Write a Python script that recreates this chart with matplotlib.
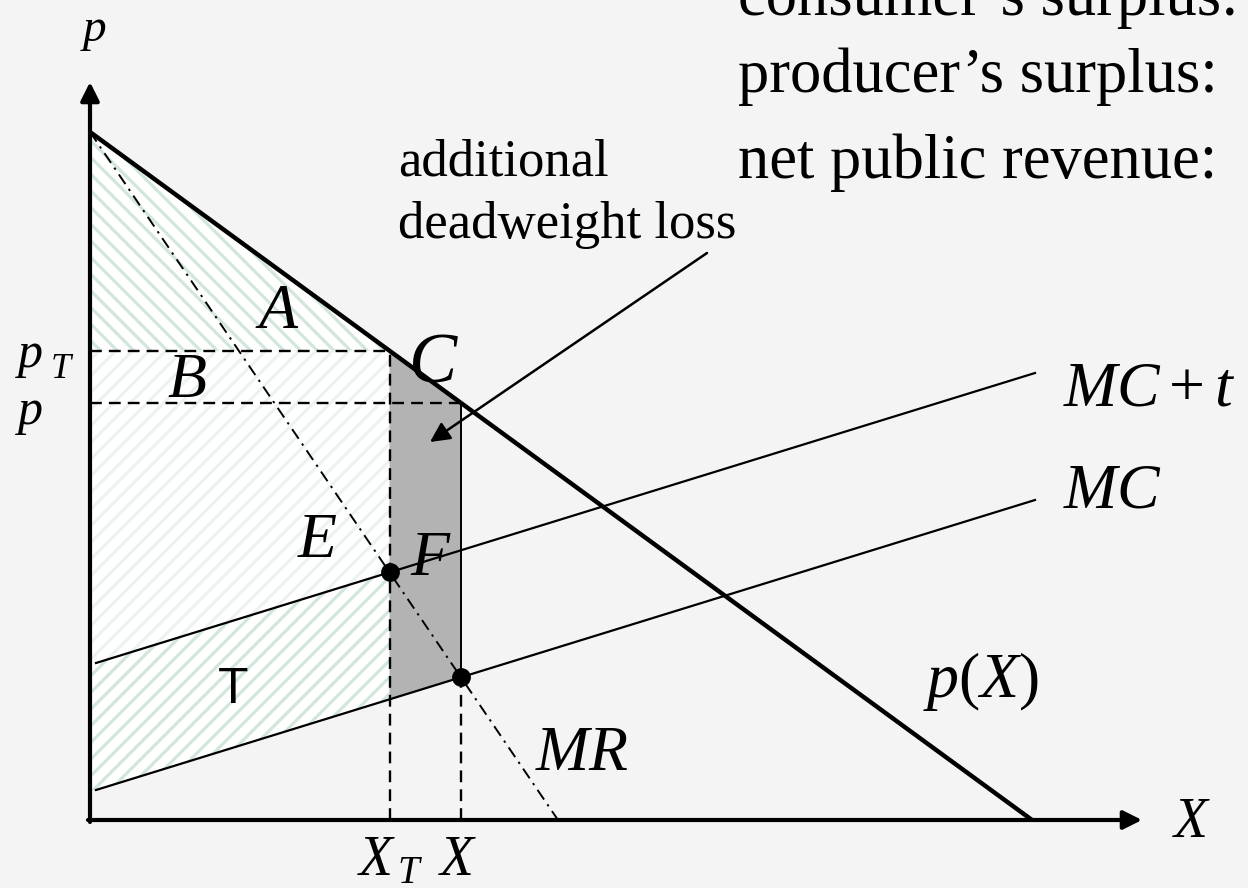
import numpy as np
import matplotlib.pyplot as plt
from matplotlib.patches import Polygon

plt.rcParams['mathtext.fontset'] = 'custom'
plt.rcParams['mathtext.it'] = 'Liberation Serif:italic'
plt.rcParams['mathtext.rm'] = 'Liberation Serif'
plt.rcParams['hatch.linewidth'] = 2.3

# curves as (quantity, price) end points, origin of the diagram at (0, 0)
demand_q = [0, 942]
demand_p = [688, 0]
mr_q = [0, 468]
mr_p = [688, 0]
mc_q = [6, 945]
mc_p = [30, 320]
mct_p = [157, 447]
axis_len = [1052, 738]

right_notes = ["consumer\u2019s surplus:", "producer\u2019s surplus:", "net public revenue:"]


def line_at(q, qs, ps):
    s = (ps[1] - ps[0]) / (qs[1] - qs[0])
    return ps[0] + s * (q - qs[0])


def cross(qa, pa, qb, pb):
    sa = (pa[1] - pa[0]) / (qa[1] - qa[0])
    sb = (pb[1] - pb[0]) / (qb[1] - qb[0])
    ia = pa[0] - sa * qa[0]
    ib = pb[0] - sb * qb[0]
    return (ib - ia) / (sa - sb)


x_t = cross(mr_q, mr_p, mc_q, mct_p)   # MR = MC + t
x_m = cross(mr_q, mr_p, mc_q, mc_p)    # MR = MC
p_t = line_at(x_t, demand_q, demand_p)
p_m = line_at(x_m, demand_q, demand_p)

fig = plt.figure(figsize=(12.48, 8.88), dpi=100, facecolor='#f4f4f4')
ax = fig.add_axes([0, 0, 1, 1])
ax.set_facecolor('#f4f4f4')
ax.set_xlim(-90, 1158)
ax.set_ylim(-68, 820)
ax.axis('off')

green = '#d2e7d9'

# shaded areas
area_a = Polygon([(0, demand_p[0]), (x_t, p_t), (0, p_t)], closed=True,
                 facecolor='white', edgecolor=green, lw=0, hatch='\\\\')
area_b = Polygon([(0, p_t), (x_t, p_t), (x_t, line_at(x_t, mc_q, mct_p)),
                  (0, line_at(0, mc_q, mct_p))], closed=True,
                 facecolor='white', edgecolor='#ecf3ee', lw=0, hatch='//')
area_t = Polygon([(0, line_at(0, mc_q, mct_p)), (x_t, line_at(x_t, mc_q, mct_p)),
                  (x_t, line_at(x_t, mc_q, mc_p)), (0, line_at(0, mc_q, mc_p))],
                 closed=True, facecolor='white', edgecolor=green, lw=0, hatch='//')
for patch in (area_a, area_b, area_t):
    ax.add_patch(patch)

loss = Polygon([(x_t, p_t), (x_m, p_m), (x_m, line_at(x_m, mc_q, mc_p)),
                (x_t, line_at(x_t, mc_q, mc_p))], closed=True,
               facecolor='#b3b3b3', edgecolor='none')
ax.add_patch(loss)

# guides
dash = dict(color='black', lw=1.7, ls=(0, (5, 3)))
ax.plot([0, x_t], [p_t, p_t], **dash)
ax.plot([0, x_m], [p_m, p_m], **dash)
ax.plot([x_t, x_t], [0, p_t], **dash)
ax.plot([x_m, x_m], [0, line_at(x_m, mc_q, mc_p)], **dash)
ax.plot([x_m, x_m], [line_at(x_m, mc_q, mc_p), p_m], color='black', lw=1.4)

# curves
ax.plot(demand_q, demand_p, color='black', lw=3.2, solid_capstyle='butt')
ax.plot(mr_q, mr_p, color='black', lw=1.4, ls=(0, (6, 3, 1.2, 3)))
ax.plot(mc_q, mc_p, color='black', lw=1.6)
ax.plot(mc_q, mct_p, color='black', lw=1.6)

# axes with arrows
ax.annotate('', xy=(0, axis_len[1]), xytext=(0, -2),
            arrowprops=dict(arrowstyle='-|>', lw=3, color='black', mutation_scale=28,
                            shrinkA=0, shrinkB=0))
ax.annotate('', xy=(axis_len[0], 0), xytext=(-2, 0),
            arrowprops=dict(arrowstyle='-|>', lw=3, color='black', mutation_scale=28,
                            shrinkA=0, shrinkB=0))

ax.plot([x_t, x_m], [line_at(x_t, mc_q, mct_p), line_at(x_m, mc_q, mc_p)], 'o',
        color='black', ms=12.5, zorder=5)

# arrow to the loss area
ax.annotate('', xy=(340, 378), xytext=(617, 567),
            arrowprops=dict(arrowstyle='-|>', lw=1.8, color='black', mutation_scale=30,
                            shrinkA=0, shrinkB=0))


# labels
def lab(x, y, s, size=46, **kw):
    ax.text(x, y, s, fontsize=size, va='baseline', **kw)


lab(3, 779, r'$p$', size=34, ha='center')
lab(-75, 453, r'$p$', size=36)
lab(-40, 442, r'$T$', size=26)
lab(-75, 396, r'$p$', size=36)
lab(165, 492, r'$A$')
lab(77, 423, r'$B$')
lab(318, 438, r'$C$', size=52)
lab(207, 263, r'$E$')
lab(320, 245, r'$F$')
ax.text(128, 117, 'T', fontsize=36, family='Liberation Sans', va='baseline')
lab(445, 50, r'$MR$')
lab(833, 123, r'$p(X)$')
lab(973, 415, r'$MC+t$')
lab(973, 313, r'$MC$')
lab(1082, -17, r'$X$', size=40)
lab(267, -55, r'$X$', size=40)
lab(307, -63, r'$T$', size=28)
lab(348, -55, r'$X$', size=40)

ax.text(308, 645, 'additional', fontsize=38, family='Liberation Serif', va='baseline')
ax.text(308, 582, 'deadweight loss', fontsize=38, family='Liberation Serif', va='baseline')

for i, note in enumerate(right_notes):
    ax.text(648, [805, 728, 642][i], note, fontsize=45, family='Liberation Serif',
            va='baseline')

fig.savefig('out.png', dpi=100, facecolor=fig.get_facecolor())
